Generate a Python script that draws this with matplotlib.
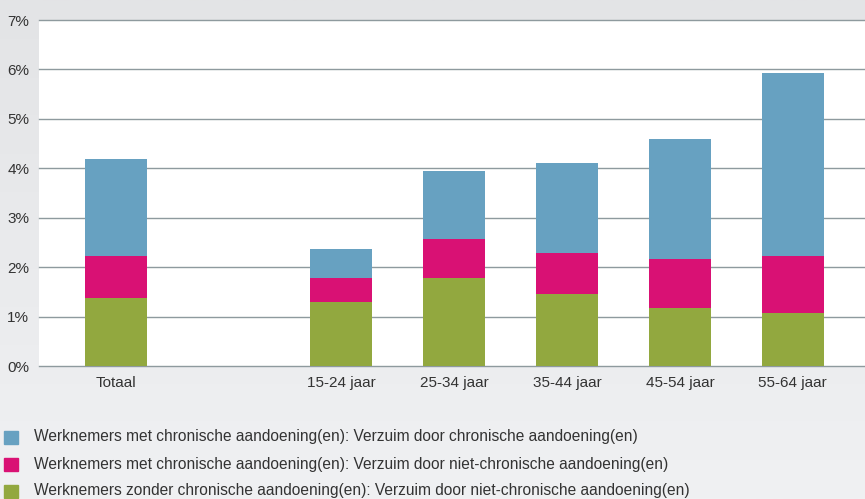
import numpy as np
import matplotlib
matplotlib.use("Agg")
import matplotlib.pyplot as plt
from matplotlib.patches import Rectangle

categories = ["Totaal", "15-24 jaar", "25-34 jaar", "35-44 jaar", "45-54 jaar", "55-64 jaar"]
positions = [0, 2, 3, 4, 5, 6]
zonder_niet_chronisch = [1.38, 1.29, 1.78, 1.46, 1.17, 1.07]
met_niet_chronisch = [0.85, 0.49, 0.79, 0.83, 0.99, 1.16]
met_chronisch = [1.96, 0.59, 1.37, 1.82, 2.43, 3.70]
series_labels = [
    "Werknemers met chronische aandoening(en): Verzuim door chronische aandoening(en)",
    "Werknemers met chronische aandoening(en): Verzuim door niet-chronische aandoening(en)",
    "Werknemers zonder chronische aandoening(en): Verzuim door niet-chronische aandoening(en)",
]
yticks = [0, 1, 2, 3, 4, 5, 6, 7]

BLUE = "#67a1c1"
PINK = "#d91174"
GREEN = "#92a83f"
GRID = "#8e9a9e"

plt.rcParams["font.family"] = ["Liberation Sans", "DejaVu Sans"]

W, H = 865, 499
fig = plt.figure(figsize=(W / 100, H / 100), dpi=100)

# achtergrond met lichte verloop
bg = fig.add_axes([0, 0, 1, 1], zorder=-10)
grad = np.linspace(0, 1, 256).reshape(-1, 1)
bg.imshow(grad, aspect="auto", cmap=matplotlib.colors.LinearSegmentedColormap.from_list(
    "bg", ["#e3e4e6", "#f0f1f3"]), extent=[0, 1, 0, 1], origin="upper")
bg.axis("off")

# plotgebied in pixels: x 39..865, y 20..366
left, right = 39 / W, 1.0
top, bottom = 1 - 20 / H, 1 - 366 / H
ax = fig.add_axes([left, bottom, right - left, top - bottom])
ax.set_facecolor("white")

width = 0.55
b1 = np.array(zonder_niet_chronisch)
b2 = b1 + np.array(met_niet_chronisch)
ax.bar(positions, zonder_niet_chronisch, width, color=GREEN, zorder=3)
ax.bar(positions, met_niet_chronisch, width, bottom=b1, color=PINK, zorder=3)
ax.bar(positions, met_chronisch, width, bottom=b2, color=BLUE, zorder=3)

ax.set_xlim(-0.68, 6.64)
ax.set_ylim(0, 7)
ax.set_yticks(yticks)
ax.set_yticklabels([f"{t}%" for t in yticks], fontsize=11, color="#333333")
ax.set_xticks(positions)
ax.set_xticklabels(categories, fontsize=11, color="#333333")
ax.tick_params(axis="both", length=0)
ax.tick_params(axis="y", pad=7)
ax.tick_params(axis="x", pad=7)
for t in yticks:
    ax.axhline(t, color=GRID, linewidth=1.0, zorder=1, clip_on=False)
for s in ax.spines.values():
    s.set_visible(False)

# legenda
colors = [BLUE, PINK, GREEN]
ys = [437, 464, 491]
for c, lab, y in zip(colors, series_labels, ys):
    fig.patches.append(Rectangle((4 / W, 1 - (y + 7) / H), 14 / W, 13 / H,
                                 transform=fig.transFigure, color=c, figure=fig))
    fig.text(34 / W, 1 - y / H, lab, fontsize=11.2, color="#333333", va="center", ha="left")

fig.savefig("out.png", dpi=100)
